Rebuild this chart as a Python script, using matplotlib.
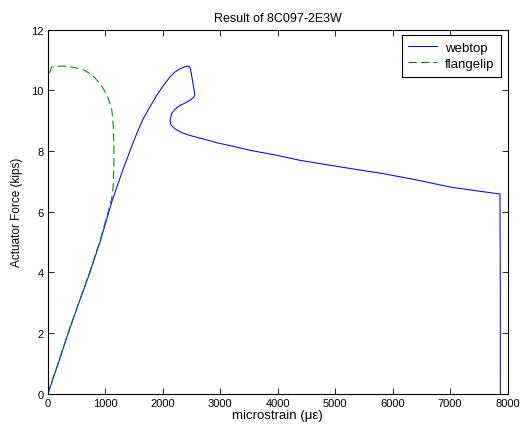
import matplotlib
matplotlib.use("Agg")
import matplotlib.pyplot as plt

plt.rcParams['font.family'] = ['Liberation Sans', 'DejaVu Sans']
plt.rcParams['font.size'] = 8

# webtop gauge (blue, solid)
webtop_x = [0, 180, 354, 540, 731, 920, 1109, 1210, 1311, 1400, 1485, 1570, 1659,
            1780, 1892, 2010, 2124, 2210, 2298, 2380, 2443, 2472, 2500, 2530, 2559,
            2520, 2472, 2390, 2298, 2210, 2153, 2124, 2140, 2211, 2330, 2472,
            2630, 2791, 2937, 3250, 3517, 4000, 4387, 4677, 5000, 5400, 5838,
            6400, 7000, 7400, 7869, 7875, 7875]
webtop_y = [0, 1, 2, 3, 4, 5.08, 6.31, 6.87, 7.41, 7.86, 8.29, 8.69, 9.06,
            9.47, 9.83, 10.16, 10.44, 10.6, 10.71, 10.77, 10.8, 10.76, 10.5, 10.16, 9.83,
            9.74, 9.67, 9.58, 9.5, 9.37, 9.23, 9.0, 8.86, 8.73, 8.6, 8.51,
            8.43, 8.35, 8.27, 8.14, 8.02, 7.85, 7.69, 7.6, 7.5, 7.38, 7.25,
            7.05, 6.81, 6.7, 6.58, 3.0, 0]

# flange lip gauge (green, dashed)
flangelip_x = [0, 175, 350, 535, 725, 915, 1109, 1137, 1149, 1145, 1137, 1109,
               1050, 980, 905, 820, 731, 640, 557, 420, 267, 120, 64, 0]
flangelip_y = [0, 1, 2, 3, 4, 5.1, 6.42, 6.86, 7.74, 8.4, 8.84, 9.39,
               9.72, 10.0, 10.22, 10.4, 10.55, 10.65, 10.71, 10.76, 10.8, 10.78, 10.77, 10.44]

fig = plt.figure(figsize=(5.25, 4.35), dpi=100)
ax = fig.add_axes([0.0914, 0.0929, 0.8753, 0.8368])

ax.plot(webtop_x, webtop_y, color='#0000ff', lw=0.75, label='webtop')
ax.plot(flangelip_x, flangelip_y, color='#008000', lw=0.75,
        linestyle=(0, (8, 4)), label='flangelip')

ax.set_xlim(0, 8000)
ax.set_ylim(0, 12)
ax.set_xticks(range(0, 8001, 1000))
ax.set_yticks(range(0, 13, 2))
ax.tick_params(direction='in', top=True, right=True, length=4, width=0.6, pad=3)
for s in ax.spines.values():
    s.set_linewidth(0.8)

ax.set_title('Result of 8C097-2E3W', fontsize=9, pad=6)
ax.set_xlabel('microstrain (\u03bc\u03b5)', fontsize=9.5, labelpad=1)
ax.set_ylabel('Actuator Force (kips)', fontsize=8.5, labelpad=6)

leg = ax.legend(loc='upper right', bbox_to_anchor=(0.986, 0.985), borderaxespad=0,
                fancybox=False, framealpha=1, edgecolor='black', fontsize=9.5,
                handlelength=2.2, handletextpad=0.6, labelspacing=0.3, borderpad=0.5)
leg.get_frame().set_linewidth(0.8)

fig.savefig('out.png', dpi=100)
